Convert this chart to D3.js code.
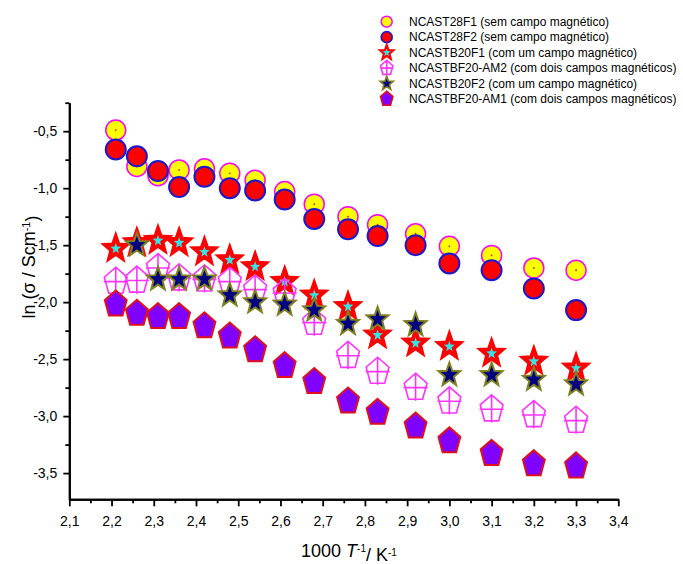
<!DOCTYPE html>
<html>
<head>
<meta charset="utf-8">
<script src="https://cdn.jsdelivr.net/npm/d3@7"></script>
<style>
  body { margin: 0; background: #fff; }
  text { font-family: "Liberation Sans", Arial, sans-serif; fill: #000; }
  .tick text { font-size: 14px; }
  .legend-label { font-size: 12px; }
  .axis-title { font-size: 18px; }
</style>
</head>
<body>
<div id="wrapper"></div>
<script>
// 1000/T values (x) and ln(sigma) values (y)
const xValues = [2.21, 2.26, 2.31, 2.36, 2.42, 2.48, 2.54, 2.61, 2.68, 2.76, 2.83, 2.92, 3.00, 3.10, 3.20, 3.30]
const ncast28f1 = [-0.49, -0.81, -0.89, -0.84, -0.83, -0.87, -0.93, -1.03, -1.14, -1.25, -1.32, -1.40, -1.51, -1.59, -1.70, -1.72]
const ncast28f2 = [-0.66, -0.72, -0.85, -0.99, -0.90, -1.00, -1.02, -1.10, -1.27, -1.36, -1.42, -1.50, -1.66, -1.72, -1.88, -2.07]
const ncastb20f1 = [-1.53, -1.48, -1.46, -1.48, -1.56, -1.63, -1.69, -1.82, -1.94, -2.04, -2.29, -2.36, -2.39, -2.45, -2.52, -2.58]
const ncastbf20am2 = [-1.82, -1.81, -1.70, -1.79, -1.80, -1.82, -1.89, -1.92, -2.18, -2.47, -2.61, -2.75, -2.87, -2.94, -2.99, -3.04]
const ncastb20f2 = [null, -1.50, -1.80, -1.80, -1.80, -1.94, -2.00, -2.02, -2.07, -2.19, -2.15, -2.20, -2.64, -2.64, -2.68, -2.72]
const ncastbf20am1 = [-2.02, -2.10, -2.13, -2.13, -2.21, -2.30, -2.42, -2.56, -2.70, -2.87, -2.97, -3.09, -3.22, -3.33, -3.42, -3.44]

const seriesNames = [
  "NCAST28F1 (sem campo magnético)",
  "NCAST28F2 (sem campo magnético)",
  "NCASTB20F1 (com um campo magnético)",
  "NCASTBF20-AM2 (com dois campos magnéticos)",
  "NCASTB20F2 (com um campo magnético)",
  "NCASTBF20-AM1 (com dois campos magnéticos)",
]
const xTicks = [2.1, 2.2, 2.3, 2.4, 2.5, 2.6, 2.7, 2.8, 2.9, 3.0, 3.1, 3.2, 3.3, 3.4]
const yTicks = [-3.5, -3.0, -2.5, -2.0, -1.5, -1.0, -0.5]

// custom symbols: size is used as radius squared
const symbolPentagon = {
  draw(context, size) {
    const r = Math.sqrt(size)
    for (let i = 0; i < 5; i++) {
      const a = -Math.PI / 2 + i * 2 * Math.PI / 5
      const px = r * Math.cos(a), py = r * 1.2 * Math.sin(a)
      i ? context.lineTo(px, py) : context.moveTo(px, py)
    }
    context.closePath()
  }
}
const symbolPentagonPlus = {
  draw(context, size) {
    symbolPentagon.draw(context, size)
    const r = Math.sqrt(size)
    context.moveTo(-r, 0); context.lineTo(r, 0)
    context.moveTo(0, -r * 1.2); context.lineTo(0, r * 1.1)
  }
}
const symbolStar10 = {
  draw(context, size) {
    const r = Math.sqrt(size)
    for (let i = 0; i < 10; i++) {
      const a = -Math.PI / 2 + i * Math.PI / 5
      const rr = i % 2 ? r * 0.42 : r
      const px = rr * Math.cos(a), py = rr * 1.08 * Math.sin(a)
      i ? context.lineTo(px, py) : context.moveTo(px, py)
    }
    context.closePath()
  }
}

const styles = [
  {type: d3.symbolCircle, r: 10, lr: 5.5, fill: "#ffff00", stroke: "#ff00ff", sw: 1.5, dot: true},
  {type: d3.symbolCircle, r: 10, lr: 5.5, fill: "#ff0000", stroke: "#1a1acc", sw: 2},
  {type: symbolStar10, r: 11, lr: 7, fill: "#33e6e6", stroke: "#ff0000", sw: 4, lsw: 2.2},
  {type: symbolPentagonPlus, r: 12, lr: 6.5, fill: "none", stroke: "#ff33ff", sw: 1.6},
  {type: symbolStar10, r: 11.5, lr: 7, fill: "#000080", stroke: "#808020", sw: 2},
  {type: symbolPentagon, r: 11.5, lr: 6.5, fill: "#8000ff", stroke: "#e0101a", sw: 2},
]
const allSeries = [ncast28f1, ncast28f2, ncastb20f1, ncastbf20am2, ncastb20f2, ncastbf20am1]

function drawChart() {
  let dimensions = {
    width: 683,
    height: 564,
    margin: {top: 102.7, right: 64.7, bottom: 64.7, left: 69.3},
  }
  dimensions.boundedWidth = dimensions.width - dimensions.margin.left - dimensions.margin.right
  dimensions.boundedHeight = dimensions.height - dimensions.margin.top - dimensions.margin.bottom

  const wrapper = d3.select("#wrapper")
    .append("svg")
      .attr("width", dimensions.width)
      .attr("height", dimensions.height)
      .style("background", "#fff")

  const bounds = wrapper.append("g")
      .attr("transform", `translate(${dimensions.margin.left},${dimensions.margin.top})`)

  const xScale = d3.scaleLinear()
    .domain([2.1, 3.4])
    .range([0, dimensions.boundedWidth])
  const yScale = d3.scaleLinear()
    .domain([-3.73, -0.25])
    .range([dimensions.boundedHeight, 0])

  const locale = d3.formatLocale({decimal: ",", thousands: ".", grouping: [3], currency: ["", ""], minus: "-"})
  const fmt = locale.format(".1f")

  // minor ticks first
  const xMinor = xTicks.slice(0, -1).map(d => d + 0.05)
  const yMinor = [-3.25, -2.75, -2.25, -1.75, -1.25, -0.75, -0.25]

  const xMinorAxis = bounds.append("g")
      .attr("transform", `translate(0,${dimensions.boundedHeight})`)
      .call(d3.axisBottom(xScale).tickValues(xMinor).tickSize(4).tickSizeOuter(0).tickFormat(""))
  const yMinorAxis = bounds.append("g")
      .call(d3.axisLeft(yScale).tickValues(yMinor).tickSize(4).tickSizeOuter(0).tickFormat(""))

  const xAxis = bounds.append("g")
      .attr("transform", `translate(0,${dimensions.boundedHeight})`)
      .call(d3.axisBottom(xScale).tickValues(xTicks).tickSize(7).tickSizeOuter(0).tickPadding(10).tickFormat(fmt))
  const yAxis = bounds.append("g")
      .call(d3.axisLeft(yScale).tickValues(yTicks).tickSize(6).tickSizeOuter(0).tickPadding(6).tickFormat(fmt))

  bounds.selectAll(".domain").attr("stroke", "#000").attr("stroke-width", 2)
  bounds.selectAll(".tick line").attr("stroke", "#000").attr("stroke-width", 1.8)
  bounds.selectAll(".tick text").attr("fill", "#000").style("font-size", "14px")

  // series, drawn in legend order
  allSeries.forEach((values, i) => {
    const s = styles[i]
    const points = xValues.map((x, j) => ({x, y: values[j]})).filter(d => d.y != null)
    const g = bounds.append("g")
    g.selectAll("path")
      .data(points)
      .enter().append("path")
        .attr("transform", d => `translate(${xScale(d.x)},${yScale(d.y)})`)
        .attr("d", d3.symbol().type(s.type).size(s.type === d3.symbolCircle ? Math.PI * s.r * s.r : s.r * s.r))
        .attr("fill", s.fill)
        .attr("stroke", s.stroke)
        .attr("stroke-width", s.sw)
    if (s.dot) {
      g.selectAll("circle")
        .data(points)
        .enter().append("circle")
          .attr("cx", d => xScale(d.x))
          .attr("cy", d => yScale(d.y))
          .attr("r", 0.9)
          .attr("fill", "#d02020")
    }
  })

  // axis titles
  const yTitle = wrapper.append("text")
      .attr("class", "axis-title")
      .attr("transform", "translate(35,267) rotate(-90)")
      .attr("text-anchor", "middle")
  yTitle.append("tspan").text("ln (")
  yTitle.append("tspan").text("σ")
  yTitle.append("tspan").text(" / Scm")
  yTitle.append("tspan").attr("dy", "-0.45em").style("font-size", "11px").text("-1")
  yTitle.append("tspan").attr("dy", "0.45em").text(")")

  const xTitle = wrapper.append("text")
      .attr("class", "axis-title")
      .attr("x", 349)
      .attr("y", 557)
      .attr("text-anchor", "middle")
  xTitle.append("tspan").text("1000 ")
  xTitle.append("tspan").style("font-style", "italic").text("T")
  xTitle.append("tspan").attr("dy", "-0.5em").style("font-size", "10px").text("-1")
  xTitle.append("tspan").attr("dy", "0.5em").text("/ K")
  xTitle.append("tspan").attr("dy", "-0.5em").style("font-size", "10px").text("-1")

  // legend
  const legendGroup = wrapper.append("g")
      .attr("transform", "translate(386.7,21.7)")
  const rows = legendGroup.selectAll("g")
    .data(seriesNames)
    .enter().append("g")
      .attr("transform", (d, i) => `translate(0,${i * 15.46})`)
  rows.append("path")
      .attr("d", (d, i) => {
        const s = styles[i]
        return d3.symbol().type(s.type).size(s.type === d3.symbolCircle ? Math.PI * s.lr * s.lr : s.lr * s.lr)()
      })
      .attr("fill", (d, i) => styles[i].fill)
      .attr("stroke", (d, i) => styles[i].stroke)
      .attr("stroke-width", (d, i) => styles[i].lsw || Math.min(styles[i].sw, 1.6))
  rows.append("text")
      .attr("class", "legend-label")
      .attr("x", 22.3)
      .attr("dy", "0.36em")
      .text(d => d)
}
drawChart()
</script>
</body>
</html>
